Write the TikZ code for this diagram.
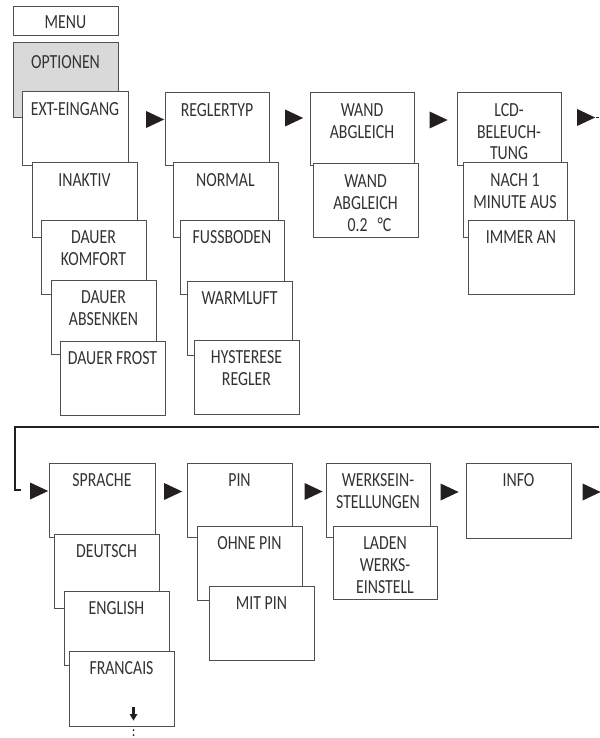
\documentclass[tikz,border=0pt]{standalone}
\usepackage{fontspec}
\setmainfont[FakeStretch=0.79]{Carlito}
\usetikzlibrary{shapes.geometric}
\definecolor{ink}{HTML}{231F20}
\definecolor{txtc}{HTML}{333333}
\definecolor{edge}{HTML}{505050}
\definecolor{optfill}{HTML}{D9D9D9}
\begin{document}
\begin{tikzpicture}[x=1pt,y=-1pt,
  box/.style={draw=edge, line width=1pt, fill=white, rectangle, anchor=north west,
    minimum width=105pt, minimum height=74pt, inner sep=0pt, outer sep=0pt},
  txt/.style={anchor=north, inner sep=0pt, align=center, text=txtc,
    font=\fontsize{20}{22}\selectfont},
  tri/.style={isosceles triangle, isosceles triangle stretches, fill=ink, draw=none,
    inner sep=0pt, minimum width=17pt, minimum height=18pt},
  link/.style={draw=ink, line width=2.4pt}
]
\useasboundingbox (0,0) rectangle (599,738);

% ---------- MENU / OPTIONEN
\node[box, minimum height=29pt] (menu) at (13,7) {};
\node[txt, anchor=center] (menuT) at ([yshift=-1pt]menu.center) {MENU};
\node[box, fill=optfill, minimum height=75pt] (opt) at (13,43) {};
\node[txt] (optT) at ([yshift=-12pt]opt.north) {OPTIONEN};

% ---------- column 1
\node[box, minimum width=106pt] (ext) at (22,92) {};
\node[txt] (extT) at ([yshift=-10.5pt]ext.north) {EXT-EINGANG};
\node[box] (inak) at (32,163) {};
\node[txt] (inakT) at ([yshift=-10.5pt]inak.north) {INAKTIV};
\node[box] (komf) at (41,220) {};
\node[txt] (komfT) at ([yshift=-10.5pt]komf.north) {DAUER\\KOMFORT};
\node[box] (absk) at (51,280) {};
\node[txt] (abskT) at ([yshift=-10.5pt]absk.north) {DAUER\\ABSENKEN};
\node[box] (frost) at (60,341) {};
\node[txt] (frostT) at ([yshift=-10.5pt]frost.north) {DAUER FROST};

% ---------- column 2
\node[box, minimum width=104pt, minimum height=73pt] (regl) at (165,93) {};
\node[txt] (reglT) at ([yshift=-10.5pt]regl.north) {REGLERTYP};
\node[box] (norm) at (173,163) {};
\node[txt] (normT) at ([yshift=-10.5pt]norm.north) {NORMAL};
\node[box, minimum width=104pt] (fuss) at (180,220) {};
\node[txt] (fussT) at ([yshift=-10.5pt]fuss.north) {FUSSBODEN};
\node[box] (warm) at (187,281) {};
\node[txt] (warmT) at ([yshift=-10.5pt]warm.north) {WARMLUFT};
\node[box] (hyst) at (194,340) {};
\node[txt] (hystT) at ([yshift=-10.5pt]hyst.north) {HYSTERESE\\REGLER};

% ---------- column 3
\node[box, minimum width=104pt, minimum height=73pt] (wand) at (310,93) {};
\node[txt] (wandT) at ([yshift=-10.5pt]wand.north) {WAND\\ABGLEICH};
\node[box, minimum height=73pt] (wandb) at (313,164) {};
\node[txt] (wandbT) at ([yshift=-10.5pt]wandb.north) {WAND\\ABGLEICH\\\hspace*{8pt}0.2\hspace{10pt}°C};

% ---------- column 4
\node[box, minimum width=104pt, minimum height=73pt] (lcd) at (457,93) {};
\node[txt, font=\fontsize{20}{21.5}\selectfont] (lcdT) at ([yshift=-10.5pt]lcd.north) {LCD-\\BELEUCH-\\TUNG};
\node[box, minimum width=104pt] (nach) at (463,163) {};
\node[txt] (nachT) at ([yshift=-10.5pt]nach.north) {NACH 1\\MINUTE AUS};
\node[box, minimum width=106pt] (immer) at (468,220) {};
\node[txt] (immerT) at ([yshift=-10.5pt]immer.north) {IMMER AN};

% ---------- top arrows
\node[tri] (t1) at (151.5,119.5) {};
\node[tri] (t2) at (290.5,118) {};
\node[tri] (t3) at (435,120) {};
\node[tri] (t4) at (582.5,117.5) {};
\coordinate (tR) at (599,117.5);
\draw[ink, line width=1.8pt] (t4.east) -- (tR);

% ---------- return connector
\coordinate (cR) at (599,427);
\coordinate (cL) at (15,427);
\coordinate (cE) at (21,490);
\draw[link] (cR) -- (cL) |- (cE);

% ---------- bottom row
\node[box, minimum width=106pt] (spr) at (49,463) {};
\node[txt] (sprT) at ([yshift=-10.5pt]spr.north) {SPRACHE};
\node[box] (deu) at (54,534) {};
\node[txt] (deuT) at ([yshift=-10.5pt]deu.north) {DEUTSCH};
\node[box] (eng) at (64,591) {};
\node[txt] (engT) at ([yshift=-10.5pt]eng.north) {ENGLISH};
\node[box, minimum height=75pt] (fra) at (69,651) {};
\node[txt] (fraT) at ([yshift=-10.5pt]fra.north) {FRANCAIS};

\node[box] (pin) at (187,463) {};
\node[txt] (pinT) at ([yshift=-10.5pt]pin.north) {PIN};
\node[box] (ohne) at (197,526) {};
\node[txt] (ohneT) at ([yshift=-10.5pt]ohne.north) {OHNE PIN};
\node[box] (mit) at (209,586) {};
\node[txt] (mitT) at ([yshift=-10.5pt]mit.north) {MIT PIN};

\node[box, minimum width=104pt] (werk) at (326,463) {};
\node[txt] (werkT) at ([yshift=-10.5pt]werk.north) {WERKSEIN-\\STELLUNGEN};
\node[box, minimum width=104pt, minimum height=73pt] (lade) at (333,526) {};
\node[txt] (ladeT) at ([yshift=-10.5pt]lade.north) {LADEN\\WERKS-\\EINSTELL};

\node[box, minimum height=75pt] (info) at (466,463) {};
\node[txt] (infoT) at ([yshift=-10.5pt]info.north) {INFO};

% ---------- bottom arrows
\node[tri] (b0) at (35.5,491) {};
\node[tri] (b1) at (169.5,491.5) {};
\node[tri] (b2) at (310,491.5) {};
\node[tri] (b3) at (446,492) {};
\node[tri] (b4) at (588,492) {};

% ---------- scroll-down mark in FRANCAIS
\coordinate (dA) at (133.5,707);
\coordinate (dB) at (133.5,715);
\draw[ink, line width=2.6pt] (dA) -- (dB);
\fill[ink] (129.5,714) -- (137.5,714) -- (133.5,720.5) -- cycle;
\fill[ink] (133.5,730) circle (1pt);
\fill[ink] (133.5,735) circle (1pt);
\end{tikzpicture}
\end{document}
